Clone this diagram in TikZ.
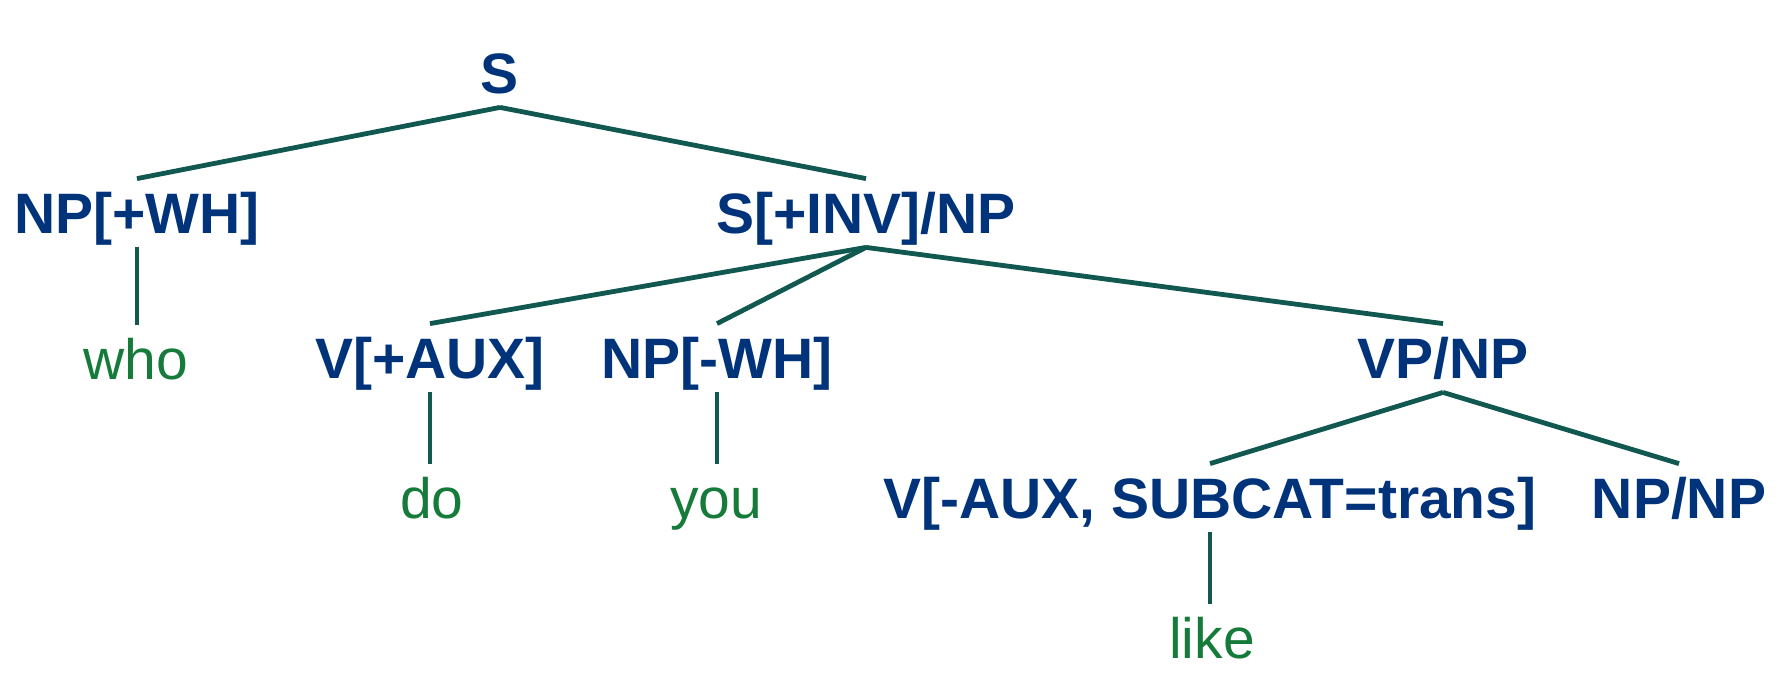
\documentclass[tikz,border=0pt]{standalone}
\usepackage{fontspec}
\setmainfont{Liberation Sans}
\definecolor{catblue}{RGB}{0,51,122}
\definecolor{wordgreen}{RGB}{22,122,58}
\definecolor{branchcol}{RGB}{16,88,80}
\tikzset{
    cat/.style={anchor=base,inner sep=0pt,text height=27pt,text depth=7pt,
        font=\fontsize{28.5}{34}\selectfont\bfseries,text=catblue},
    word/.style={anchor=base,inner sep=0pt,text height=27pt,text depth=7pt,
        font=\fontsize{28.5}{34}\selectfont,text=wordgreen},
    branch/.style={draw=branchcol,line width=2.4pt}
}
\begin{document}
\begin{tikzpicture}[x=0.5pt,y=-0.5pt]
    \useasboundingbox (0,0) rectangle (1782,675);
    \node[cat] (s) at (500,93) {S};
    \node[cat] (npwh) at (137,233) {NP[+WH]};
    \node[cat] (sinv) at (866,233) {S[+INV]/NP};
    \node[word] (who) at (136,379) {who};
    \node[cat] (vaux) at (430,378) {V[+AUX]};
    \node[cat] (npnwh) at (717,378) {NP[-WH]};
    \node[cat] (vpnp) at (1443,378) {VP/NP};
    \node[word] (do) at (432,518) {do};
    \node[word] (you) at (716,518) {you};
    \node[cat] (vsub) at (1210,518) {V[-AUX, SUBCAT=trans]};
    \node[cat] (npnp) at (1679,518) {NP/NP};
    \node[word] (like) at (1212,658) {like};
    \foreach \a/\b in {s/npwh,s/sinv,sinv/vaux,sinv/npnwh,sinv/vpnp,vpnp/vsub,vpnp/npnp}{
        \draw[branch] (\a.south) -- (\b.north);
    }
    \foreach \a/\b in {npwh/who,vaux/do,npnwh/you,vsub/like}{
        \draw[branch] (\a.south) -- (\a.south|-\b.north);
    }
\end{tikzpicture}
\end{document}
